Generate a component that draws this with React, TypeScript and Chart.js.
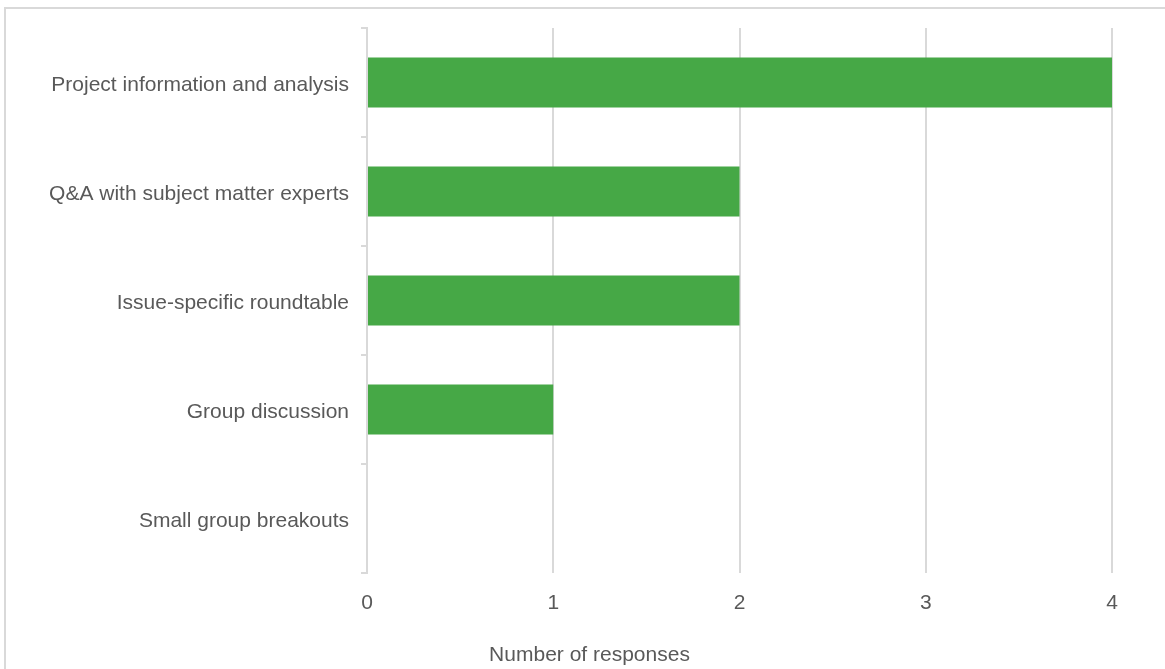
import React, { useEffect, useRef } from "react";
import { Chart, registerables } from "chart.js";

Chart.register(...registerables);

const categories = [
  "Project information and analysis",
  "Q&A with subject matter experts",
  "Issue-specific roundtable",
  "Group discussion",
  "Small group breakouts",
];
const responses = [4, 2, 2, 1, 0];
const xTicks = [0, 1, 2, 3, 4];
const axisTitle = "Number of responses";

const FONT = "'Liberation Sans', Arial, sans-serif";
const TEXT = "#595959";
const GRID = "#d9d9d9";
const BAR = "#46A846";

export default function App() {
  const ref = useRef<HTMLCanvasElement | null>(null);

  useEffect(() => {
    if (!ref.current) return;
    const titlePlugin = {
      id: "bottomTitle",
      afterDraw(chart: any) {
        const ctx = chart.ctx;
        ctx.save();
        ctx.font = `21px ${FONT}`;
        ctx.fillStyle = TEXT;
        ctx.textAlign = "center";
        ctx.textBaseline = "alphabetic";
        ctx.fillText(axisTitle, chart.width / 2 + 7, chart.height - 8);
        ctx.restore();
      },
    };
    const chart = new Chart(ref.current, {
      type: "bar",
      data: {
        labels: categories,
        datasets: [
          {
            data: responses,
            backgroundColor: BAR,
            borderWidth: 0,
            barPercentage: 0.46,
            categoryPercentage: 1,
          },
        ],
      },
      options: {
        indexAxis: "y",
        animation: false,
        responsive: false,
        maintainAspectRatio: false,
        layout: { padding: { top: 28, right: 53, bottom: 0, left: 0 } },
        plugins: {
          legend: { display: false },
          tooltip: { enabled: false },
          title: { display: false },
        },
        scales: {
          x: {
            min: xTicks[0],
            max: xTicks[xTicks.length - 1],
            afterFit(scale: any) {
              scale.height = 96;
            },
            afterBuildTicks(scale: any) {
              scale.ticks = xTicks.map((v) => ({ value: v }));
            },
            ticks: {
              stepSize: 1,
              color: TEXT,
              font: { family: FONT, size: 21 },
              padding: 18,
            },
            grid: {
              color: GRID,
              lineWidth: 2,
              drawTicks: false,
            },
            border: { display: false },
          },
          y: {
            afterFit(scale: any) {
              scale.width = 367;
            },
            ticks: {
              color: TEXT,
              font: { family: FONT, size: 21 },
              padding: 12,
              labelOffset: 3,
            },
            grid: {
              color: GRID,
              lineWidth: 2,
              drawOnChartArea: false,
              drawTicks: true,
              tickLength: 6,
            },
            border: { display: true, color: GRID, width: 2 },
          },
        },
      },
      plugins: [titlePlugin],
    });
    return () => chart.destroy();
  }, []);

  return (
    <div
      style={{
        position: "fixed",
        left: 0,
        top: 0,
        width: 1165,
        height: 669,
        overflow: "hidden",
        background: "#fff",
      }}
    >
      <div
        style={{
          position: "absolute",
          left: 4,
          top: 7,
          width: 1200,
          height: 700,
          borderLeft: `2px solid ${GRID}`,
          borderTop: `2px solid ${GRID}`,
          boxSizing: "border-box",
        }}
      />
      <canvas
        ref={ref}
        width={1165}
        height={669}
        style={{ position: "absolute", left: 0, top: 0, width: 1165, height: 669 }}
      />
    </div>
  );
}
